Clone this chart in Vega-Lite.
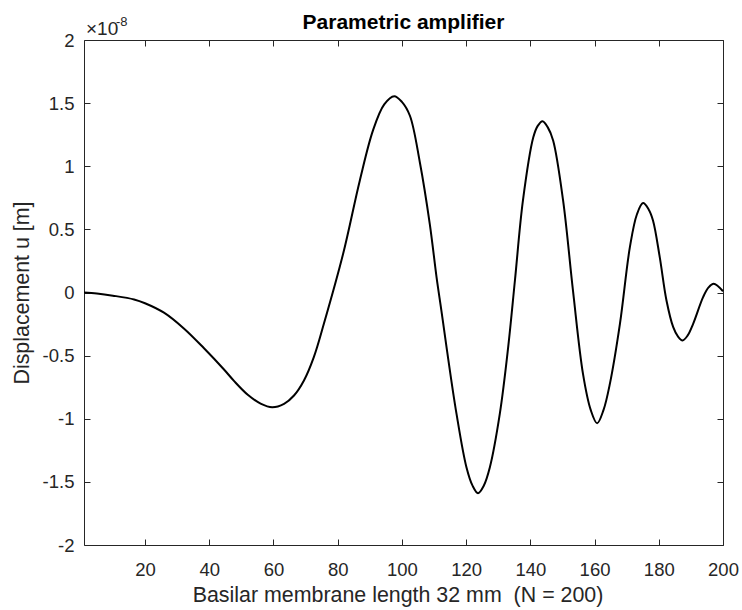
{
  "$schema": "https://vega.github.io/schema/vega-lite/v6.json",
  "autosize": "none",
  "width": 639,
  "height": 505,
  "padding": {"left": 84, "top": 40, "right": 19, "bottom": 65},
  "background": "white",
  "title": {"text": "Parametric amplifier", "fontSize": 21, "fontWeight": "bold", "font": "Liberation Sans", "color": "#000000", "anchor": "middle", "offset": -34, "baseline": "alphabetic"},
  "config": {
    "view": {"stroke": null},
    "axis": {
      "domainColor": "#262626", "tickColor": "#262626", "labelColor": "#262626", "titleColor": "#262626",
      "labelFont": "Liberation Sans", "titleFont": "Liberation Sans", "labelFontSize": 18.5, "titleFontSize": 21.4,
      "titleFontWeight": "normal", "grid": false, "tickSize": -6, "domainWidth": 1, "tickWidth": 1,
      "labelFlush": false, "labelOverlap": false
    }
  },
  "resolve": {"axis": {"x": "independent", "y": "independent"}},
  "layer": [
    {
      "data": {"values": [
        {"x": 1, "y": 0}, {"x": 5, "y": -0.008}, {"x": 10, "y": -0.025}, {"x": 16.6, "y": -0.055},
        {"x": 20, "y": -0.085}, {"x": 25.9, "y": -0.16}, {"x": 32.1, "y": -0.285}, {"x": 38.3, "y": -0.44},
        {"x": 44.6, "y": -0.61}, {"x": 47.7, "y": -0.7}, {"x": 52, "y": -0.81}, {"x": 56, "y": -0.88},
        {"x": 59.6, "y": -0.909}, {"x": 63.3, "y": -0.882}, {"x": 66.4, "y": -0.816}, {"x": 69.5, "y": -0.697},
        {"x": 72.6, "y": -0.51}, {"x": 75.7, "y": -0.248}, {"x": 81.7, "y": 0.307},
        {"x": 86.9, "y": 0.888}, {"x": 91, "y": 1.284}, {"x": 94.5, "y": 1.49}, {"x": 97.6, "y": 1.555},
        {"x": 100, "y": 1.51}, {"x": 102.5, "y": 1.4}, {"x": 105.6, "y": 1.03}, {"x": 108.7, "y": 0.54},
        {"x": 110.8, "y": 0.12}, {"x": 112.3, "y": -0.143}, {"x": 113.9, "y": -0.433}, {"x": 117, "y": -0.96},
        {"x": 120.1, "y": -1.384}, {"x": 122, "y": -1.53}, {"x": 123.7, "y": -1.59}, {"x": 125.5, "y": -1.53},
        {"x": 127.4, "y": -1.384}, {"x": 130.5, "y": -0.96},
        {"x": 133.1, "y": -0.433}, {"x": 135.2, "y": 0.095}, {"x": 137.7, "y": 0.729}, {"x": 140.9, "y": 1.227},
        {"x": 142.3, "y": 1.32}, {"x": 143.8, "y": 1.357}, {"x": 145.4, "y": 1.31}, {"x": 147.1, "y": 1.204},
        {"x": 150.2, "y": 0.729}, {"x": 153.3, "y": 0.01},
        {"x": 156.4, "y": -0.645}, {"x": 158.8, "y": -0.93}, {"x": 160.8, "y": -1.036}, {"x": 162.8, "y": -0.93},
        {"x": 164.8, "y": -0.72}, {"x": 167.9, "y": -0.249},
        {"x": 171, "y": 0.359}, {"x": 173.2, "y": 0.62}, {"x": 175.1, "y": 0.708}, {"x": 176.8, "y": 0.66},
        {"x": 178.2, "y": 0.571}, {"x": 180.3, "y": 0.28},
        {"x": 182.4, "y": -0.063}, {"x": 184.5, "y": -0.275}, {"x": 186, "y": -0.35}, {"x": 187.4, "y": -0.38},
        {"x": 189, "y": -0.34}, {"x": 190.7, "y": -0.248},
        {"x": 193.8, "y": -0.037}, {"x": 195.5, "y": 0.04}, {"x": 197.1, "y": 0.069}, {"x": 200, "y": 0.01}
      ]},
      "mark": {"type": "line", "color": "#000000", "strokeWidth": 2, "interpolate": "catmull-rom"},
      "encoding": {
        "x": {"field": "x", "type": "quantitative", "scale": {"domain": [1, 200], "nice": false, "zero": false},
          "axis": {"orient": "bottom", "values": [20, 40, 60, 80, 100, 120, 140, 160, 180, 200], "labelPadding": 21,
            "title": "Basilar membrane length 32 mm\u00a0 (N = 200)", "titlePadding": 6, "titleX": 313.5}},
        "y": {"field": "y", "type": "quantitative", "scale": {"domain": [-2, 2], "nice": false, "zero": false},
          "axis": {"orient": "left", "values": [-2, -1.5, -1, -0.5, 0, 0.5, 1, 1.5, 2], "labelPadding": 16,
            "labelExpr": "'' + datum.value", "title": "Displacement u [m]", "titlePadding": 10}}
      }
    },
    {
      "data": {"values": [{"x": 1, "y": -2}, {"x": 200, "y": 2}]},
      "mark": {"type": "line", "opacity": 0},
      "encoding": {
        "x": {"field": "x", "type": "quantitative", "axis": {"orient": "top", "values": [20, 40, 60, 80, 100, 120, 140, 160, 180, 200], "labels": false, "title": null}},
        "y": {"field": "y", "type": "quantitative", "axis": {"orient": "right", "values": [-2, -1.5, -1, -0.5, 0, 0.5, 1, 1.5, 2], "labels": false, "title": null}}
      }
    },
    {
      "data": {"values": [{"x": 1, "y": 2, "base": "\u00d710", "exp": "-8"}]},
      "layer": [
        {
          "mark": {"type": "text", "font": "Liberation Sans", "fontSize": 19, "align": "left", "baseline": "alphabetic", "dx": 2, "dy": -5, "color": "#262626"},
          "encoding": {"text": {"field": "base"}, "x": {"field": "x", "type": "quantitative", "axis": null}, "y": {"field": "y", "type": "quantitative", "axis": null}}
        },
        {
          "mark": {"type": "text", "font": "Liberation Sans", "fontSize": 13, "align": "left", "baseline": "alphabetic", "dx": 32, "dy": -14, "color": "#262626"},
          "encoding": {"text": {"field": "exp"}, "x": {"field": "x", "type": "quantitative", "axis": null}, "y": {"field": "y", "type": "quantitative", "axis": null}}
        }
      ]
    }
  ]
}
